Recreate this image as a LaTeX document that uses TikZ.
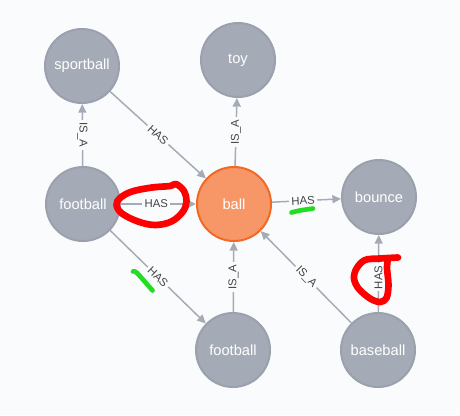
\documentclass[tikz,border=0pt]{standalone}
\usepackage{fontspec}
\setmainfont{Liberation Sans}
\usetikzlibrary{arrows.meta}
\definecolor{bg}{HTML}{F9FBFD}
\definecolor{gnode}{HTML}{A5ABB6}
\definecolor{gborder}{HTML}{9AA1AC}
\definecolor{onode}{HTML}{F79767}
\definecolor{oborder}{HTML}{F36924}
\definecolor{edgec}{HTML}{A5ABB6}
\definecolor{lblc}{HTML}{444444}
\definecolor{annred}{HTML}{FF0000}
\definecolor{anngreen}{HTML}{22DD22}
\begin{document}
\begin{tikzpicture}[x=0.75pt,y=-0.75pt,
 gnodestyle/.style={circle, fill=gnode, draw=gborder, line width=1.5pt, minimum size=55.5pt, inner sep=0pt, text=white, font=\fontsize{11}{13}\selectfont},
 onodestyle/.style={gnodestyle, fill=onode, draw=oborder},
 rel/.style={draw=edgec, line width=1.1pt, -{Triangle[length=6.5pt,width=6pt]}},
 lbl/.style={fill=bg, inner sep=1.8pt, text=lblc, font=\fontsize{8.5}{10}\selectfont},
 redmark/.style={draw=annred, line width=5pt, line cap=round, line join=round},
 greenmark/.style={draw=anngreen, line width=3.5pt, line cap=round, line join=round}]
\fill[bg] (0,0) rectangle (460,415);
\useasboundingbox (0,0) rectangle (460,415);
% nodes
\node[gnodestyle] (sport) at (82,66) {sportball};
\node[gnodestyle] (toy) at (238,60) {toy};
\node[gnodestyle] (fbl) at (83,204) {football};
\node[onodestyle] (ball) at (234,204) {ball};
\node[gnodestyle] (bounce) at (379,197) {bounce};
\node[gnodestyle] (fbb) at (233,350) {football};
\node[gnodestyle] (base) at (378,350) {baseball};
% relationships
\draw[rel] (fbl) -- node[lbl, rotate=-90] {IS\_A} (sport);
\draw[rel] (sport) -- node[lbl, sloped] {HAS} (ball);
\draw[rel] (ball) -- node[lbl, rotate=90] {IS\_A} (toy);
\draw[rel] (fbl) -- node[lbl, pos=0.47] {HAS} (ball);
\draw[rel] (ball) -- node[lbl, sloped, pos=0.45] {HAS} (bounce);
\draw[rel] (fbl) -- node[lbl, sloped] {HAS} (fbb);
\draw[rel] (fbb) -- node[lbl, rotate=90] {IS\_A} (ball);
\draw[rel] (base) -- node[lbl, sloped] {IS\_A} (ball);
\draw[rel] (base) -- node[lbl, rotate=90, pos=0.45] {HAS} (bounce);
% hand-drawn annotations
\draw[redmark] plot[smooth cycle, tension=0.6] coordinates {(176,184) (184,191) (186.5,201) (183,211.5) (171.5,221.5) (155,225) (138,221.5) (122,213.5) (116.5,205) (120,198) (132,191.5) (152,187.5) (170,186)};
\draw[redmark] plot[smooth, tension=0.55] coordinates {(398,257.5) (380,258.5) (365,260) (356.5,268.5) (354,278.5) (358.5,288.5) (370,298.5) (380,302) (386.5,298) (388.5,285) (387,268) (388,259)};
\draw[greenmark] plot[smooth, tension=0.5] coordinates {(291.5,212.5) (300,210.5) (313,208.5)};
\draw[greenmark] plot[smooth, tension=0.5] coordinates {(133,271.5) (137,273) (152.5,290.5)};
\end{tikzpicture}
\end{document}
